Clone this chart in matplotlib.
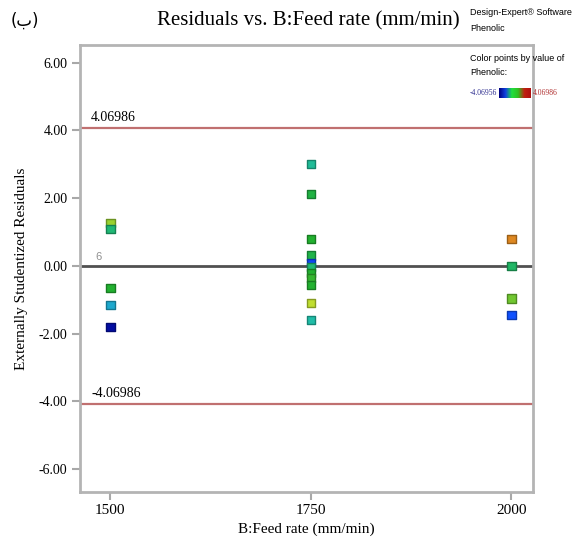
import matplotlib
matplotlib.use("Agg")
import matplotlib.pyplot as plt
import numpy as np
from matplotlib.colors import LinearSegmentedColormap

# Data
feed_1500 = [1.27, 1.09, -0.65, -1.15, -1.80]
col_1500 = [0.62, 0.42, 0.50, 0.30, 0.03]
feed_1750 = [3.01, 2.13, 0.80, 0.30, 0.09, -0.03, -0.21, -0.35, -0.56, -1.09, -1.60]
col_1750 = [0.38, 0.48, 0.50, 0.47, 0.15, 0.42, 0.50, 0.52, 0.50, 0.66, 0.36]
feed_2000 = [0.80, 0.00, -0.97, -1.45]
col_2000 = [0.82, 0.44, 0.58, 0.17]
feed_levels = [1500, 1750, 2000]
limit = 4.06986
phen_min, phen_max = -4.06956, 4.06986
y_ticks = [-6, -4, -2, 0, 2, 4, 6]

serif = "Liberation Serif"
sans = "Liberation Sans"

cmap = LinearSegmentedColormap.from_list(
    "de", ["#000090", "#1050ff", "#20c0c0", "#20b030", "#c8e030", "#e08020", "#c01010"])
bar_cmap = LinearSegmentedColormap.from_list("bar", ["#000080", "#1040e0", "#20e040", "#30c020", "#c02010", "#b01010"])

fig = plt.figure(figsize=(5.75, 5.46), dpi=100)
ax = fig.add_axes([0.139, 0.099, 0.788, 0.819])

xs, ys, cs = [], [], []
for lvl, vals, cols in zip(feed_levels, [feed_1500, feed_1750, feed_2000],
                           [col_1500, col_1750, col_2000]):
    xs += [lvl] * len(vals)
    ys += vals
    cs += cols
colors = cmap(np.array(cs))
edge = colors.copy()
edge[:, :3] *= 0.7
ax.scatter(xs, ys, marker="s", s=36, c=colors, edgecolors=edge, linewidths=1.0, zorder=3)

ax.axhline(0, color="#505050", lw=2, zorder=2)
ax.axhline(limit, color="#c07070", lw=1.6, zorder=2)
ax.axhline(-limit, color="#c07070", lw=1.6, zorder=2)
ax.text(1476, limit + 0.12, f"{limit:.5f}", fontsize=10, family=serif, va="bottom")
ax.text(1476, -limit + 0.12, f"-{limit:.5f}", fontsize=10, family=serif, va="bottom")
ax.text(1481, 0.1, "6", fontsize=8, color="#909090", family=sans, va="bottom")

ax.set_xlim(1462, 2027)
ax.set_ylim(-6.68, 6.53)
ax.set_xticks(feed_levels)
ax.set_xticklabels([str(v) for v in feed_levels], family=serif, fontsize=11)
ax.set_yticks(y_ticks)
ax.set_yticklabels([f"{v:.2f}" for v in y_ticks], family=serif, fontsize=10)
ax.tick_params(direction="out", length=6, width=1.5, color="#a8a8a8", pad=3)
for sp in ax.spines.values():
    sp.set_color("#b4b4b4")
    sp.set_linewidth(2)

ax.set_xlabel("B:Feed rate (mm/min)", family=serif, fontsize=11, labelpad=4)
ax.set_ylabel("Externally Studentized Residuals", family=serif, fontsize=11, labelpad=8)

fig.text(0.537, 0.962, "Residuals vs. B:Feed rate (mm/min)", family=serif,
         fontsize=15, ha="center", va="center")
fig.text(0.018, 0.962, "(ب)", family=["DejaVu Sans"], fontsize=12, va="center")

fig.text(0.818, 0.978, "Design-Expert® Software", family=sans, fontsize=6.5, va="center")
fig.text(0.818, 0.948, "Phenolic", family=sans, fontsize=6.5, va="center")
fig.text(0.818, 0.893, "Color points by value of", family=sans, fontsize=6.5, va="center")
fig.text(0.818, 0.867, "Phenolic:", family=sans, fontsize=6.5, va="center")

cax = fig.add_axes([0.868, 0.821, 0.054, 0.018])
cax.imshow(np.linspace(0, 1, 100)[None, :], aspect="auto", cmap=bar_cmap)
cax.set_axis_off()
fig.text(0.865, 0.830, f"{phen_min:.5f}", family=serif, fontsize=5.5,
         color="#303090", ha="right", va="center")
fig.text(0.926, 0.830, f"{phen_max:.5f}", family=serif, fontsize=5.5,
         color="#b03030", ha="left", va="center")

fig.savefig("out.png", dpi=100)
